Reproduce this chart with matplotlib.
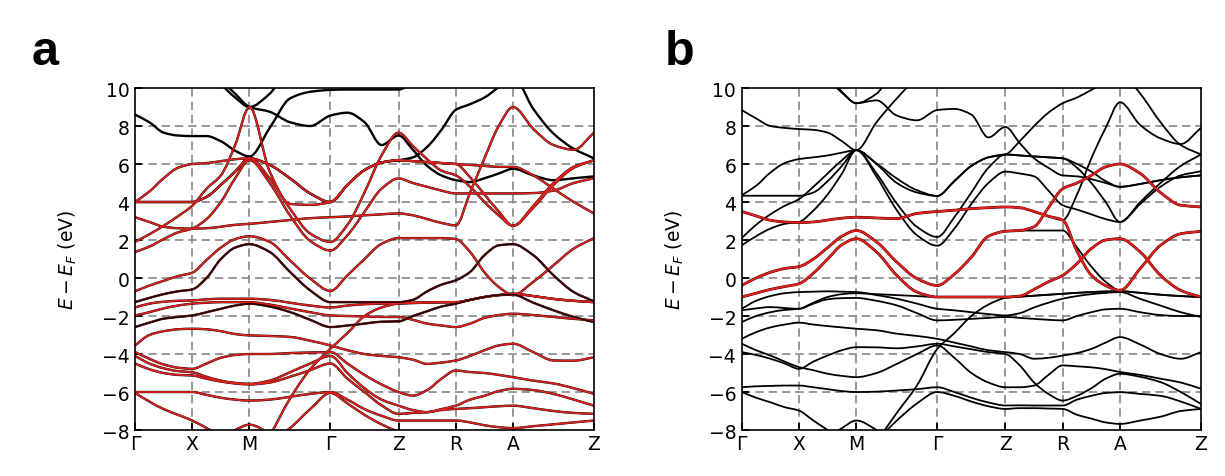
import numpy as np
import matplotlib
matplotlib.use('Agg')
import matplotlib.pyplot as plt
from matplotlib.path import Path
from matplotlib.patches import PathPatch

# ---------------- k-path ----------------
k_labels = ['Γ', 'X', 'M', 'Γ', 'Z', 'R', 'A', 'Z']
segment_lengths = [1.0, 1.0, 1.414, 1.19, 1.0, 1.0, 1.414]
samples_per_segment = 4
y_ticks = [-8, -6, -4, -2, 0, 2, 4, 6, 8, 10]

# ---------------- panel a: bands (eV), sampled at quarter points of each segment ----------------
a_k1 = [11, 11, 11, 11, 11, 11, 10.2, 9.5, 9.0, 9.7, 11, 11, 11, 11, 11, 11, 11, 11, 11, 11, 11, 11, 11, 11, 11, 11, 11, 11, 11]
a_k2 = [8.6, 8.2, 7.65, 7.5, 7.47, 7.47, 7.2, 6.7, 6.4, 7.9, 9.45, 9.8, 9.9, 9.92, 9.92, 9.92, 9.92, 10.3, 10.8, 11, 11, 11, 11, 11, 11, 11, 11, 11, 11]
a_k3 = [11, 11, 11, 11, 11, 11, 10.4, 9.7, 9.0, 8.75, 8.2, 8.0, 8.55, 8.7, 8.2, 7.0, 7.5, 6.75, 5.9, 5.4, 5.15, 5.05, 5.25, 5.5, 5.75, 5.4, 5.15, 5.25, 5.35]
a_k4 = [4.0, 4.0, 4.0, 4.0, 4.0, 4.27, 4.9, 5.6, 6.3, 5.95, 5.25, 4.45, 4.0, 4.9, 5.68, 6.08, 6.2, 6.35, 6.9, 7.8, 8.85, 9.15, 9.5, 10.05, 10.6, 8.9, 7.6, 6.8, 6.3]

a_r1 = [4.0, 4.55, 5.25, 5.8, 6.0, 6.05, 6.15, 6.25, 6.3, 5.24, 3.65, 2.34, 1.9, 2.8, 4.5, 6.45, 7.65, 6.95, 6.25, 5.65, 5.4, 4.8, 4.0, 3.3, 2.75, 3.7, 4.9, 5.8, 6.2]
a_r2 = [4.0, 4.0, 4.0, 4.0, 4.0, 4.27, 4.9, 5.6, 6.3, 5.95, 5.25, 4.45, 4.0, 4.9, 5.68, 6.08, 6.2, 6.15, 6.1, 6.05, 6.0, 5.95, 5.9, 5.85, 5.85, 5.4, 4.7, 4.0, 3.4]
a_r3 = [1.9, 2.3, 2.75, 3.25, 3.8, 4.7, 5.4, 7.0, 9.0, 5.6, 3.9, 3.85, 4.0, 4.9, 5.68, 6.08, 6.2, 6.15, 6.1, 6.05, 6.0, 5.3, 4.4, 3.5, 2.75, 3.8, 5.0, 5.85, 6.2]
a_r4 = [3.2, 2.95, 2.7, 2.62, 2.6, 2.62, 2.7, 2.8, 2.85, 2.95, 3.05, 3.15, 3.2, 3.24, 3.3, 3.35, 3.4, 3.3, 3.1, 2.9, 2.77, 4.5, 6.3, 8.0, 9.0, 7.85, 7.0, 6.75, 7.65]
a_r5 = [1.37, 1.65, 2.05, 2.4, 2.6, 3.1, 4.0, 5.25, 6.2, 5.0, 3.3, 1.95, 1.45, 2.25, 3.48, 4.7, 5.24, 5.0, 4.8, 4.6, 4.45, 4.45, 4.45, 4.45, 4.45, 4.47, 4.6, 5.0, 5.25]
a_m1 = [-0.70, -0.40, -0.15, 0.10, 0.28, 0.95, 1.6, 2.05, 2.2, 1.9, 0.93, -0.03, -0.68, 0.14, 1.0, 1.8, 2.1, 2.1, 2.1, 2.1, 2.05, 1.37, 0.3, -0.47, -0.9, -0.2, 0.67, 1.55, 2.1]
a_m2 = [-1.27, -1.05, -0.85, -0.7, -0.6, 0.0, 1.0, 1.6, 1.78, 1.37, 0.32, -0.65, -1.27, -1.27, -1.27, -1.27, -1.27, -1.15, -0.7, -0.35, -0.12, 0.32, 1.2, 1.72, 1.78, 1.2, 0.14, -0.74, -1.23]
a_mr1 = [-1.55, -1.35, -1.25, -1.2, -1.18, -1.12, -1.09, -1.09, -1.09, -1.15, -1.3, -1.45, -1.55, -1.45, -1.38, -1.35, -1.33, -1.3, -1.28, -1.27, -1.27, -1.15, -1.0, -0.9, -0.83, -0.95, -1.1, -1.2, -1.27]
a_mr2 = [-1.97, -1.8, -1.6, -1.45, -1.35, -1.3, -1.27, -1.27, -1.27, -1.4, -1.6, -1.8, -1.97, -2.0, -2.02, -2.05, -2.05, -2.2, -2.4, -2.5, -2.58, -2.4, -2.1, -1.95, -1.88, -1.95, -2.05, -2.15, -2.23]
a_mB = [-2.58, -2.35, -2.14, -2.05, -1.97, -1.8, -1.62, -1.45, -1.35, -1.5, -1.79, -2.2, -2.58, -2.5, -2.4, -2.3, -2.28, -2.0, -1.75, -1.5, -1.35, -1.15, -1.0, -0.9, -0.88, -1.3, -1.7, -2.05, -2.32]
a_c1 = [-3.55, -3.0, -2.8, -2.7, -2.67, -2.7, -2.8, -2.95, -3.02, -3.05, -3.1, -3.3, -3.55, -3.8, -4.0, -4.1, -4.17, -4.3, -4.52, -4.45, -4.34, -4.1, -3.8, -3.55, -3.46, -3.9, -4.34, -4.35, -4.17]
a_c2 = [-3.9, -4.25, -4.55, -4.72, -4.78, -4.5, -4.2, -4.05, -4.0, -4.0, -3.95, -3.92, -3.9, -4.5, -5.1, -5.6, -6.0, -6.19, -5.9, -5.3, -4.87, -4.95, -5.0, -5.1, -5.22, -5.4, -5.55, -5.8, -6.1]
a_c3 = [-4.1, -4.5, -4.75, -4.9, -4.96, -5.2, -5.4, -5.52, -5.57, -5.4, -4.96, -4.5, -4.1, -5.0, -5.8, -6.4, -6.72, -6.95, -7.06, -6.9, -6.72, -6.4, -6.2, -5.95, -5.83, -5.9, -6.1, -6.4, -6.72]
a_c4 = [-4.5, -4.8, -5.0, -5.1, -5.13, -5.3, -5.45, -5.55, -5.6, -5.5, -5.2, -4.85, -4.5, -5.3, -6.0, -6.7, -7.15, -7.1, -7.06, -6.95, -6.89, -6.85, -6.8, -6.75, -6.72, -6.85, -7.0, -7.1, -7.15]
a_c5 = [-6.0, -6.0, -6.0, -6.0, -6.0, -6.15, -6.3, -6.4, -6.45, -6.4, -6.25, -6.1, -6.0, -6.4, -6.9, -7.25, -7.5, -7.5, -7.5, -7.5, -7.5, -7.6, -7.75, -7.85, -7.9, -7.8, -7.7, -7.6, -7.5]
a_c6 = [-6.05, -6.5, -6.9, -7.2, -7.5, -7.9, -8.3, -8.7, -9.0, -8.6, -7.9, -6.9, -6.05, -6.6, -7.2, -7.7, -8.1, -8.4, -8.6, -8.8, -9.0, -9.2, -9.3, -9.4, -9.5, -9.3, -9.0, -8.7, -8.5]
a_c7 = [-10, -10, -10, -10, -10, -10, -10, -10, -10, -8.3, -6.35, -4.8, -3.72, -2.9, -2.0, -1.55, -1.35, -1.32, -1.3, -1.28, -1.27, -1.15, -1.0, -0.9, -0.83, -0.95, -1.1, -1.2, -1.27]
a_c8 = [-10, -10, -10, -10, -9.5, -9.0, -8.5, -8.0, -7.72, -8.2, -9.0, -10, -10, -10, -10, -10, -10, -10, -10, -10, -10, -10, -10, -10, -10, -10, -10, -10, -10]

# ---------------- panel b ----------------
b_k1 = [11, 11, 11, 11, 11, 11, 10.5, 9.75, 9.2, 9.7, 11, 11, 11, 11, 11, 11, 11, 11, 11, 11, 11, 11, 11, 11, 11, 11, 11, 11, 11]
b_k2 = [8.84, 8.4, 8.0, 7.9, 7.84, 7.8, 7.65, 7.2, 6.73, 8.2, 9.45, 10.5, 11, 11, 11, 11, 11, 11, 11, 11, 11, 11, 11, 11, 11, 11, 11, 11, 11]
b_k3 = [11, 11, 11, 11, 11, 11, 10.6, 9.8, 9.2, 9.35, 8.55, 8.3, 8.84, 8.9, 8.6, 7.4, 7.95, 7.1, 6.3, 5.8, 5.4, 5.35, 5.2, 5.0, 4.8, 4.95, 5.15, 5.3, 5.4]
b_k4 = [4.36, 4.85, 5.55, 6.05, 6.26, 6.35, 6.45, 6.6, 6.73, 6.03, 5.24, 4.62, 4.32, 5.1, 5.9, 6.35, 6.5, 7.2, 8.0, 8.7, 9.2, 9.5, 9.9, 10.3, 10.8, 9.7, 8.2, 7.0, 6.5]
b_k5 = [4.33, 4.33, 4.33, 4.33, 4.33, 4.5, 5.1, 5.9, 6.73, 5.5, 3.92, 2.69, 2.16, 3.2, 4.5, 5.8, 6.5, 6.45, 6.4, 6.35, 6.3, 5.8, 5.0, 4.0, 2.95, 4.0, 5.0, 5.9, 6.5]
b_k6 = [2.1, 2.8, 3.35, 3.8, 4.15, 4.8, 5.5, 6.2, 6.73, 5.33, 3.57, 2.25, 1.7, 2.6, 3.9, 5.0, 5.6, 5.5, 5.35, 4.6, 3.83, 3.6, 3.35, 3.1, 2.95, 3.9, 4.8, 5.4, 5.62]
b_k7 = [1.72, 2.2, 2.6, 2.85, 2.95, 3.55, 4.4, 5.5, 6.73, 6.0, 5.0, 4.5, 4.32, 5.1, 5.9, 6.35, 6.5, 6.45, 6.4, 6.35, 6.3, 6.0, 5.6, 5.1, 4.8, 4.95, 5.15, 5.3, 5.4]
b_rb1 = [3.5, 3.27, 3.04, 2.95, 2.92, 2.95, 3.05, 3.15, 3.2, 3.16, 3.13, 3.4, 3.5, 3.57, 3.65, 3.7, 3.74, 3.7, 3.5, 3.25, 3.05, 1.4, 0.15, -0.4, -0.65, 0.5, 1.72, 2.33, 2.46]
b_rb1_dft = [3.5, 3.27, 3.04, 2.95, 2.92, 2.95, 3.05, 3.15, 3.2, 3.16, 3.13, 3.4, 3.5, 3.57, 3.65, 3.7, 3.74, 3.7, 3.5, 3.25, 3.05, 4.4, 6.3, 7.9, 9.25, 8.05, 7.35, 7.05, 7.9]
b_rb2 = [-0.39, 0.0, 0.3, 0.5, 0.6, 1.0, 1.6, 2.2, 2.5, 1.9, 0.84, -0.03, -0.39, 0.2, 1.1, 2.2, 2.46, 2.5, 2.7, 3.7, 4.7, 5.0, 5.4, 5.85, 6.0, 5.5, 4.5, 3.83, 3.74]
b_rb2_dft = [-0.39, 0.0, 0.3, 0.5, 0.6, 1.0, 1.6, 2.2, 2.5, 1.9, 0.84, -0.03, -0.39, 0.2, 1.1, 2.2, 2.46, 2.5, 2.5, 2.5, 2.5, 1.6, 0.6, -0.2, -0.65, 0.5, 1.72, 2.33, 2.46]
b_rb3 = [-1.0, -0.8, -0.6, -0.45, -0.3, 0.25, 1.0, 1.75, 2.07, 1.37, 0.14, -0.74, -1.0, -1.0, -1.0, -1.0, -1.0, -0.95, -0.6, -0.2, 0.14, 0.76, 1.55, 2.0, 2.07, 1.37, 0.14, -0.65, -1.0]
b_m1 = [-1.62, -1.2, -0.95, -0.8, -0.74, -0.72, -0.7, -0.72, -0.74, -0.9, -1.09, -1.35, -1.62, -1.7, -1.8, -1.9, -1.97, -1.85, -1.55, -1.3, -1.09, -0.95, -0.85, -0.78, -0.74, -1.1, -1.45, -1.8, -2.05]
b_m2 = [-1.7, -1.6, -1.53, -1.58, -1.62, -1.35, -1.12, -1.06, -1.05, -1.2, -1.44, -1.85, -2.23, -2.2, -2.15, -2.1, -2.05, -2.1, -2.15, -2.2, -2.23, -2.0, -1.8, -1.65, -1.62, -1.8, -1.95, -2.0, -2.0]
b_m3 = [-2.32, -2.0, -1.8, -1.68, -1.62, -1.3, -1.0, -0.85, -0.8, -0.85, -0.9, -0.95, -1.0, -1.0, -1.0, -1.0, -1.0, -0.98, -0.93, -0.88, -0.83, -0.78, -0.74, -0.71, -0.7, -0.78, -0.88, -0.95, -1.0]
b_m4 = [-3.2, -2.85, -2.6, -2.45, -2.35, -2.45, -2.53, -2.6, -2.67, -2.75, -2.93, -3.05, -3.2, -3.4, -3.6, -3.8, -3.9, -4.0, -4.25, -4.2, -4.08, -3.95, -3.73, -3.4, -3.11, -3.5, -4.0, -4.25, -3.9]
b_m5 = [-3.46, -3.8, -4.08, -4.4, -4.69, -4.85, -5.04, -5.15, -5.22, -5.0, -4.52, -4.0, -3.55, -4.2, -5.0, -5.5, -5.75, -5.75, -5.66, -5.1, -4.6, -4.65, -4.7, -4.8, -4.95, -5.1, -5.3, -5.5, -5.83]
b_m6 = [-3.9, -4.05, -4.25, -4.5, -4.78, -4.4, -4.08, -3.8, -3.64, -3.65, -3.7, -3.6, -3.46, -3.6, -3.75, -3.9, -4.0, -4.6, -5.5, -6.1, -6.45, -6.2, -5.8, -5.3, -5.04, -5.2, -5.48, -6.0, -6.63]
b_L1 = [-5.75, -5.7, -5.68, -5.66, -5.66, -5.75, -5.85, -5.95, -6.0, -5.98, -5.92, -5.85, -5.75, -6.0, -6.3, -6.55, -6.71, -6.7, -6.71, -6.71, -6.71, -6.4, -6.2, -6.05, -6.01, -6.1, -6.2, -6.5, -6.89]
b_L2 = [-6.0, -6.3, -6.54, -6.8, -6.98, -7.5, -8.0, -8.5, -9.0, -8.5, -7.5, -6.6, -6.0, -6.2, -6.5, -6.75, -6.89, -6.85, -6.85, -6.87, -6.89, -7.2, -7.4, -7.6, -7.68, -7.5, -7.3, -7.0, -6.89]
b_L3 = [-10, -10, -10, -10, -9.5, -9.0, -8.4, -7.9, -7.5, -8.0, -8.8, -9.5, -10, -10, -10, -10, -10, -10, -10, -10, -10, -10, -10, -10, -10, -10, -10, -10, -10]
b_L4 = [-10, -10, -10, -10, -10, -10, -10, -10, -10, -8.6, -7.1, -5.65, -3.73, -2.9, -2.0, -1.4, -1.05, -0.98, -0.93, -0.88, -0.83, -0.78, -0.74, -0.71, -0.7, -0.78, -0.88, -0.95, -1.0]

a_black_only = [a_k1, a_k2, a_k3, a_k4]
a_red = [a_r1, a_r2, a_r3, a_r4, a_r5, a_m1, a_m2, a_mr1, a_mr2, a_mB,
         a_c1, a_c2, a_c3, a_c4, a_c5, a_c6, a_c7, a_c8]
a_dark_on_top = [a_m2, a_mB]

b_black = [b_k1, b_k2, b_k3, b_k4, b_k5, b_k6, b_k7, b_rb1_dft, b_rb2_dft, b_rb3,
           b_m1, b_m2, b_m3, b_m4, b_m5, b_m6, b_L1, b_L2, b_L3, b_L4]
b_red = [b_rb1, b_rb2, b_rb3]

# ---------------- helpers ----------------
nodes = np.concatenate([[0.0], np.cumsum(segment_lengths)])
kx = []
for i in range(len(segment_lengths)):
    kx.extend(np.linspace(nodes[i], nodes[i + 1], samples_per_segment + 1)[:-1])
kx.append(nodes[-1])
kx = np.array(kx)

RED = '#e0201c'
BLACK = '#000000'
GRID = '#858585'


def band_path(x, y):
    """Smooth (monotone cubic Bezier) path passing through the sampled band values."""
    x = np.asarray(x, float)
    y = np.asarray(y, float)
    h = np.diff(x)
    d = np.diff(y) / h
    m = np.zeros_like(y)
    for k in range(1, len(y) - 1):
        if d[k - 1] * d[k] > 0:
            w1 = 2 * h[k] + h[k - 1]
            w2 = h[k] + 2 * h[k - 1]
            m[k] = (w1 + w2) / (w1 / d[k - 1] + w2 / d[k])
    m[0] = d[0]
    m[-1] = d[-1]
    verts = [(x[0], y[0])]
    codes = [Path.MOVETO]
    for k in range(len(x) - 1):
        verts += [(x[k] + h[k] / 3, y[k] + m[k] * h[k] / 3),
                  (x[k + 1] - h[k] / 3, y[k + 1] - m[k + 1] * h[k] / 3),
                  (x[k + 1], y[k + 1])]
        codes += [Path.CURVE4] * 3
    return Path(verts, codes)


def draw_band(ax, y, color, lw, z, alpha=1.0):
    ax.add_patch(PathPatch(band_path(kx, y), facecolor='none', edgecolor=color,
                           lw=lw, zorder=z, alpha=alpha, capstyle='round', joinstyle='round'))


def style_axes(ax):
    ax.set_xlim(nodes[0], nodes[-1])
    ax.set_ylim(-8, 10)
    ax.set_xticks(nodes)
    ax.set_xticklabels(k_labels)
    ax.set_yticks(y_ticks)
    ax.set_yticklabels([('\u2212%d' % -t) if t < 0 else '%d' % t for t in y_ticks])
    for v in nodes[1:-1]:
        ax.axvline(v, color=GRID, lw=1.2, ls=(0, (5, 3)), zorder=1)
    for t in y_ticks[1:-1]:
        ax.axhline(t, color=GRID, lw=1.2, ls=(0, (5, 3)), zorder=1)
    ax.tick_params(axis='both', direction='in', length=5, width=1.3,
                   labelsize=13.5, top=False, right=False, pad=4)
    ax.tick_params(axis='x', pad=3)
    for s in ax.spines.values():
        s.set_linewidth(1.2)
        s.set_zorder(6)
    ax.set_ylabel(r'$E - E_F$ (eV)', fontsize=13.5, labelpad=16)


fig = plt.figure(figsize=(12.25, 4.77), dpi=100)
ax_a = fig.add_axes([0.1102, 0.0964, 0.3747, 0.717])
ax_b = fig.add_axes([0.6055, 0.0964, 0.3749, 0.717])

for band in a_black_only + a_red:
    draw_band(ax_a, band, BLACK, 1.7, 2)
for band in a_red:
    draw_band(ax_a, band, RED, 1.25, 3)
for band in a_dark_on_top:
    draw_band(ax_a, band, BLACK, 1.1, 4, alpha=0.85)

for band in b_black:
    draw_band(ax_b, band, BLACK, 1.3, 2)
for band in b_red:
    draw_band(ax_b, band, '#5a0000', 2.0, 3)
    draw_band(ax_b, band, RED, 1.4, 4)

style_axes(ax_a)
style_axes(ax_b)

fig.text(0.026, 0.864, 'a', fontsize=35, fontweight='bold', family='Liberation Sans', va='baseline')
fig.text(0.543, 0.864, 'b', fontsize=35, fontweight='bold', family='Liberation Sans', va='baseline')

fig.savefig('out.png', dpi=100)
